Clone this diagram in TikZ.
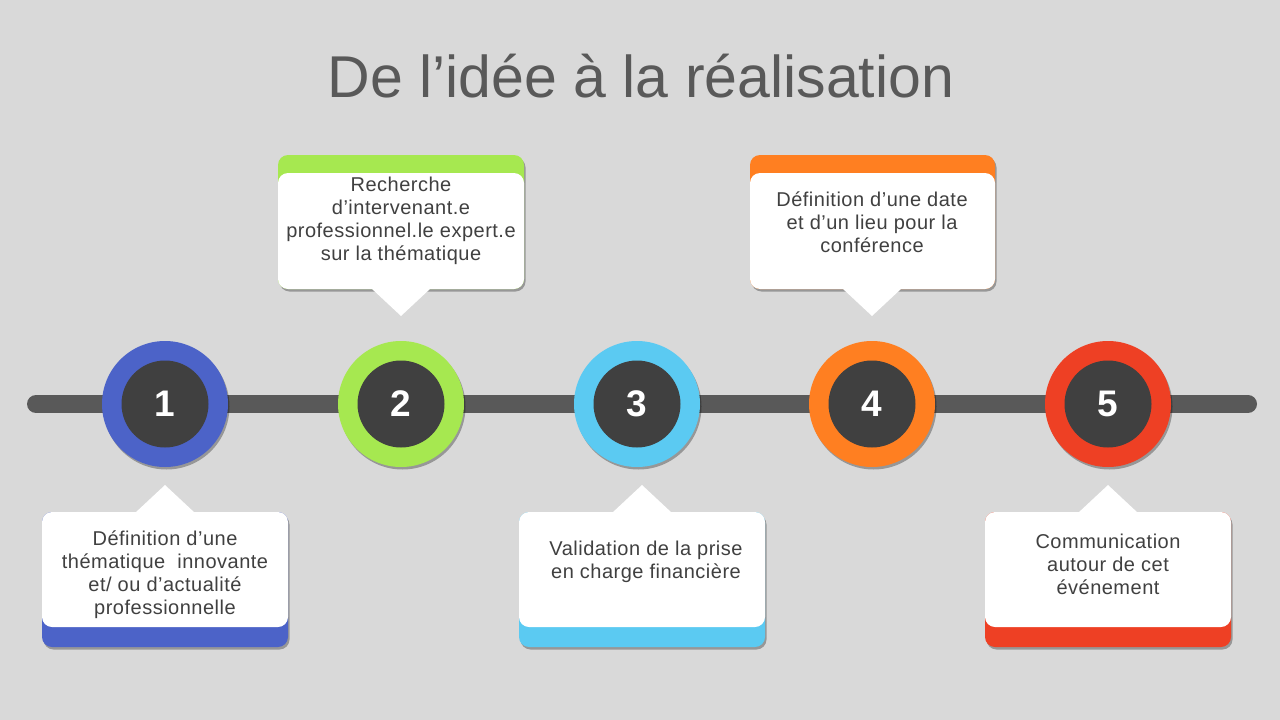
\documentclass[tikz,border=0pt]{standalone}
\usepackage{fontspec}
\setmainfont{Liberation Sans}
\newfontfamily\cardfont[LetterSpace=2.5]{Liberation Sans}
\usepackage{tikz}
\usetikzlibrary{positioning,shadows}
\definecolor{bggray}{HTML}{D9D9D9}
\definecolor{bargray}{HTML}{595959}
\definecolor{titlegray}{HTML}{595959}
\definecolor{textgray}{HTML}{404040}
\definecolor{coredark}{HTML}{404040}
\definecolor{stepblue}{HTML}{4C63C8}
\definecolor{stepgreen}{HTML}{A6E850}
\definecolor{stepcyan}{HTML}{5BCAF2}
\definecolor{steporange}{HTML}{FF7F21}
\definecolor{stepred}{HTML}{EE4024}

\begin{document}
\begin{tikzpicture}[
  x=1pt, y=-1pt,
  shade/.style={drop shadow={shadow xshift=1.5pt, shadow yshift=-2.5pt, opacity=0.3, fill=black}},
  ring/.style={circle, minimum size=126pt, inner sep=0pt, shade},
  core/.style={circle, fill=coredark, minimum size=87pt, inner sep=0pt, text=white, font=\fontsize{37}{37}\selectfont\bfseries},
  strip/.style={rounded corners=10pt, shade},
  card/.style={fill=white, rounded corners=10pt},
  txt/.style={font=\cardfont\fontsize{20}{23}\selectfont, text=textgray, align=center, inner sep=0pt},
  bar/.style={line width=18pt, line cap=round, draw=bargray, shade}
]
% background and title
\fill[bggray] (0,0) rectangle (1280,720);
\useasboundingbox (0,0) rectangle (1280,720);
\node[font=\fontsize{59}{59}\selectfont, text=titlegray] (title) at (641,76) {De l’idée à la réalisation};

% timeline
\coordinate (barL) at (36,404);
\coordinate (barR) at (1248,404);
\draw[bar] (barL) -- (barR);

% steps
\node[ring, fill=stepblue] (s1) at (165,404) {};
\node[core] (n1) at (s1) {1};
\node[ring, fill=stepgreen] (s2) at (401,404) {};
\node[core] (n2) at (s2) {2};
\node[ring, fill=stepcyan] (s3) at (637,404) {};
\node[core] (n3) at (s3) {3};
\node[ring, fill=steporange] (s4) at (872,404) {};
\node[core] (n4) at (s4) {4};
\node[ring, fill=stepred] (s5) at (1108,404) {};
\node[core] (n5) at (s5) {5};

% callout 1 (below)
\path[strip, fill=stepblue] (42,512) rectangle (288,647);
\fill[card] (42,512) rectangle (288,627);
\fill[white] (135,513) -- (165,485) -- (195,513) -- cycle;
\node[txt] (t1) at (165,575) {Définition d’une\\thématique\ \ innovante\\et/ ou d’actualité\\professionnelle};

% callout 2 (above)
\path[strip, fill=stepgreen] (278,155) rectangle (524,289);
\fill[card] (278,173) rectangle (524,289);
\fill[white] (371,288) -- (401,316) -- (431,288) -- cycle;
\node[txt] (t2) at (401,221) {Recherche\\d’intervenant.e\\professionnel.le\ expert.e\\sur la thématique};

% callout 3 (below)
\path[strip, fill=stepcyan] (519,512) rectangle (765,647);
\fill[card] (519,512) rectangle (765,627);
\fill[white] (612,513) -- (642,485) -- (672,513) -- cycle;
\node[txt] (t3) at (646,562) {Validation de la prise\\en charge financière};

% callout 4 (above)
\path[strip, fill=steporange] (750,155) rectangle (995,289);
\fill[card] (750,173) rectangle (995,289);
\fill[white] (842,288) -- (872,316) -- (902,288) -- cycle;
\node[txt] (t4) at (872,222) {Définition d’une date\\et d’un lieu pour la\\conférence};

% callout 5 (below)
\path[strip, fill=stepred] (985,512) rectangle (1231,647);
\fill[card] (985,512) rectangle (1231,627);
\fill[white] (1078,513) -- (1108,485) -- (1138,513) -- cycle;
\node[txt] (t5) at (1108,564) {Communication\\autour de cet\\événement};
\end{tikzpicture}
\end{document}
